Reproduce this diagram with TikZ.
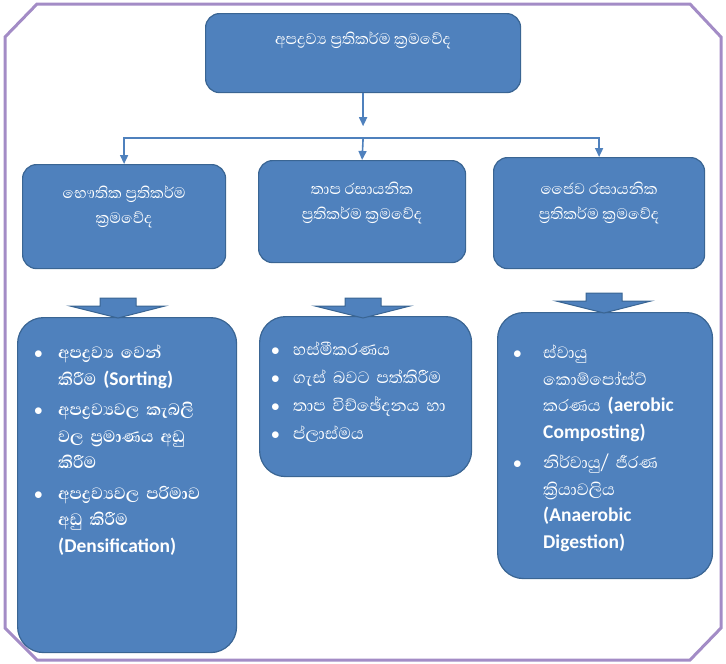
\documentclass[tikz,border=0pt]{standalone}
\usepackage{fontspec}
\setmainfont{Carlito}
\newfontfamily\snfont[Script=Sinhala]{Abhaya Libre}
\newfontfamily\latfont{Carlito}
\usetikzlibrary{arrows.meta,calc,positioning}
\definecolor{eBlue}{HTML}{4F81BD}
\definecolor{eEdge}{HTML}{3A6593}
\definecolor{eFrame}{HTML}{A38CC6}
\tikzset{bx/.style={draw=eEdge, line width=1.2pt, fill=eBlue, inner sep=0pt,
  anchor=north west, rounded corners=14pt}}
\tikzset{bigbx/.style={bx, rounded corners=26pt}}
\tikzset{hd/.style={text=white, font=\snfont\fontsize{19.5}{25}\selectfont,
  align=center, inner sep=0pt}}
\tikzset{lst/.style={text=white, font=\snfont\fontsize{21}{26.5}\selectfont,
  align=left, inner sep=0pt, anchor=north west}}
\tikzset{conn/.style={draw=eBlue, line width=1.6pt,
  -{Triangle[width=8pt,length=9pt]}}}
\tikzset{blk/.style={fill=eBlue, draw=eEdge, line width=1pt}}
\tikzset{frm/.style={draw=eFrame, line width=3pt}}
\newcommand{\en}[1]{{\latfont\bfseries\fontsize{19.5}{26.5}\selectfont #1}}
\newcommand{\itm}[2]{\par\hangindent=#1\hangafter=1\noindent
  \hbox to #1{\fontsize{16}{26.5}\selectfont$\bullet$\hfil}#2\par\vspace{4pt}}
\newcommand{\downblk}[2]{\filldraw[blk] (#1-18,#2-20) -- (#1+18,#2-20)
  -- (#1+18,#2-12) -- (#1+47,#2-12) -- (#1,#2) -- (#1-48,#2-12)
  -- (#1-18,#2-12) -- cycle;}

\begin{document}
\begin{tikzpicture}[x=1pt, y=-1pt]
  \useasboundingbox (0,0) rectangle (726,664);
  \draw[frm] (5,37) -- (37,4) -- (690,4) -- (721,37) -- (721,628)
    -- (690,660) -- (37,660) -- (5,628) -- cycle;
  %%
  \node (top) at (205,13) [bx, minimum width=315pt, minimum height=79pt] {};
  \node (topt) at ($(top.north)+(0,27)$) [hd]
    {අපද්^^^^200dරව්^^^^200dය ප්^^^^200dරතිකර්ම ක්^^^^200dරමවේද};
  %%
  \node (phys) at (22,164) [bx, minimum width=203pt, minimum height=104pt] {};
  \node (therm) at (258,160) [bx, minimum width=207pt, minimum height=102pt] {};
  \node (bio) at (493,157) [bx, minimum width=211pt, minimum height=111pt] {};
  \node (physt) at ($(phys.north)+(0,43)$) [hd]
    {භෞතික ප්^^^^200dරතිකර්ම\\ක්^^^^200dරමවේද};
  \node (thermt) at ($(therm.north)+(0,43)$) [hd]
    {තාප රසායනික\\ප්^^^^200dරතිකර්ම ක්^^^^200dරමවේද};
  \node (biot) at ($(bio.north)+(0,46)$) [hd]
    {ජෛව රසායනික\\ප්^^^^200dරතිකර්ම ක්^^^^200dරමවේද};
  %%
  \coordinate (tip) at ($(top.south)+(0,33)$);
  \coordinate (fork) at ($(top.south)+(0,45)$);
  \draw[conn] (top.south) -- (tip);
  \draw[conn] (fork) -| (phys.north);
  \draw[conn] (fork) -- (therm.north);
  \draw[conn] (fork) -| (bio.north);
  %%
  \node (low1) at (17,317) [bigbx, minimum width=219pt, minimum height=335pt] {};
  \node (low2) at (259,316) [bigbx, minimum width=212pt, minimum height=160pt] {};
  \node (low3) at (497,312) [bigbx, minimum width=215pt, minimum height=266pt] {};
  \downblk{118}{318}
  \downblk{363}{318}
  \downblk{604}{313}
  %%
  \node (low1t) at (34,332) [lst, text width=198pt] {\bfseries
    \itm{24pt}{අපද්^^^^200dරව්^^^^200dය වෙන්\newline කිරීම \en{(Sorting)}}
    \itm{24pt}{අපද්^^^^200dරව්^^^^200dයවල කැබලි\newline වල ප්^^^^200dරමාණය අඩු\newline කිරීම}
    \itm{24pt}{අපද්^^^^200dරව්^^^^200dයවල පරිමාව\newline අඩු කිරීම\newline \en{(Densification)}}};
  \node (low2t) at (271,329) [lst, text width=195pt]
    {\itm{22pt}{හස්මීකරණය}\vspace{-2.5pt}
     \itm{22pt}{ගැස් බවට පත්කිරීම}\vspace{-2.5pt}
     \itm{22pt}{තාප විච්ඡේදනය හා}\vspace{-2.5pt}
     \itm{22pt}{ප්ලාස්මය}};
  \node (low3t) at (513,332) [lst, text width=195pt]
    {\itm{30pt}{ස්වායු\newline කොම්පෝස්ට්\newline කරණය \en{(aerobic}\newline \en{Composting)}}
     \itm{30pt}{නිර්වායු/ ජීරණ\newline ක්^^^^200dරියාවලිය\newline \en{(Anaerobic}\newline \en{Digestion)}}};
\end{tikzpicture}
\end{document}
